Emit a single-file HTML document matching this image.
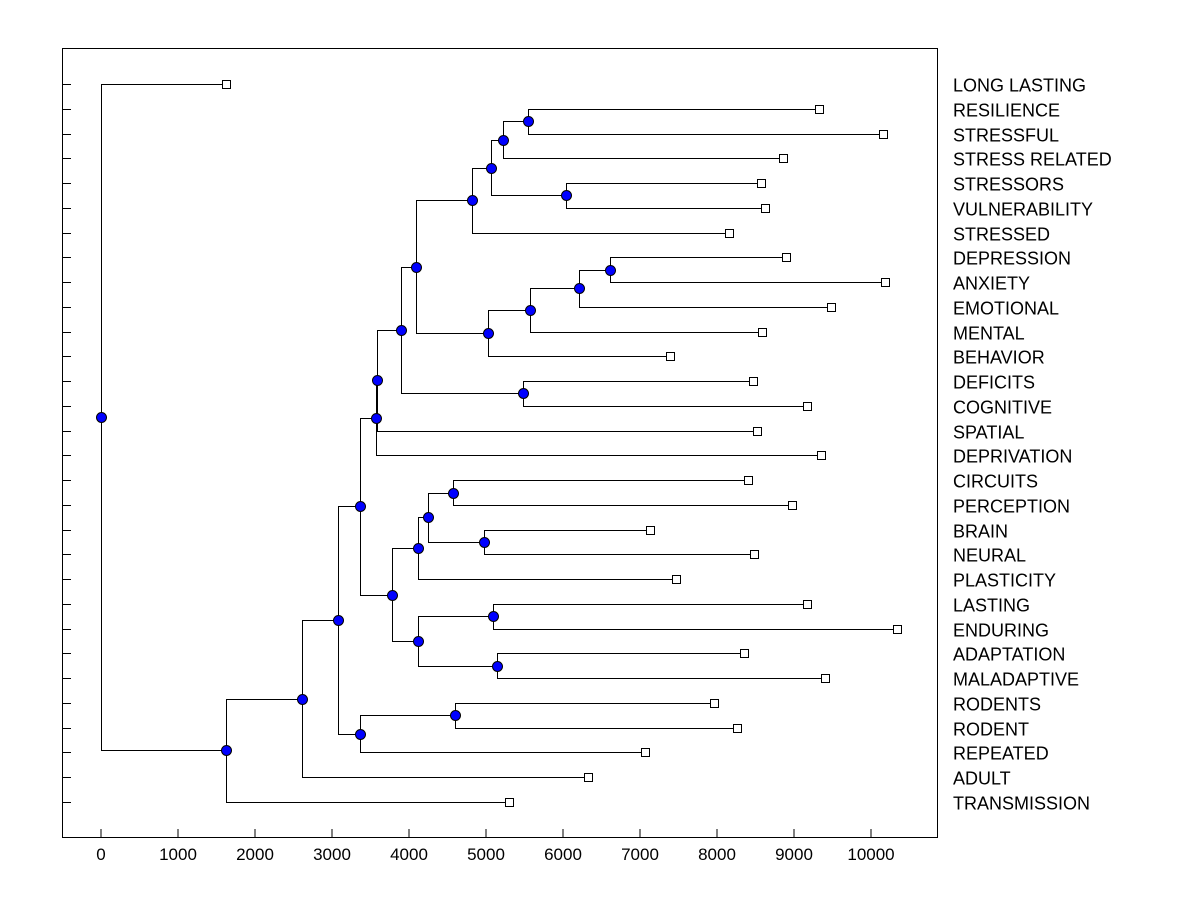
<!DOCTYPE html>
<html><head><meta charset="utf-8"><style>
html,body{margin:0;padding:0;background:#fff;}
svg text{font-family:"Liberation Sans",Arial,sans-serif;font-size:16px;fill:#000;}
svg text.lbl{font-size:18px;}
svg text.tk{font-size:17px;}
</style></head><body>
<svg id="chart" width="1200" height="900" xmlns="http://www.w3.org/2000/svg">
<rect x="62.5" y="48.5" width="875" height="789" fill="none" stroke="#000" stroke-width="1"/>
<g id="ticks"></g><g id="links"></g><g id="marks"></g><g id="labels"></g>
</svg>
<script>
const leafLabels=["LONG LASTING","RESILIENCE","STRESSFUL","STRESS RELATED","STRESSORS","VULNERABILITY","STRESSED","DEPRESSION","ANXIETY","EMOTIONAL","MENTAL","BEHAVIOR","DEFICITS","COGNITIVE","SPATIAL","DEPRIVATION","CIRCUITS","PERCEPTION","BRAIN","NEURAL","PLASTICITY","LASTING","ENDURING","ADAPTATION","MALADAPTIVE","RODENTS","RODENT","REPEATED","ADULT","TRANSMISSION"];
const leafValues=[1620,9325,10156,8857,8571,8623,8156,8896,10182,9481,8584,7390,8468,9169,8519,9351,8403,8974,7130,8481,7468,9169,10338,8351,9403,7961,8260,7065,6325,5299];
const nodeIds=["CC","AA","BB","Z","U","Y","X","W","V","S","T","R","P","G","N","O","M","I","K","L","J","H","D","F","E","C","B","A","ROOT"];
const nodeLeft=["RESILIENCE","CC","STRESSORS","AA","Z","DEPRESSION","Y","X","W","U","DEFICITS","S","R","P","CIRCUITS","BRAIN","N","M","LASTING","ADAPTATION","K","I","G","RODENTS","F","D","C","B","LONG LASTING"];
const nodeRight=["STRESSFUL","STRESS RELATED","VULNERABILITY","BB","STRESSED","ANXIETY","EMOTIONAL","MENTAL","BEHAVIOR","V","COGNITIVE","T","SPATIAL","DEPRIVATION","PERCEPTION","NEURAL","O","PLASTICITY","ENDURING","MALADAPTIVE","L","J","H","RODENT","REPEATED","E","ADULT","TRANSMISSION","A"];
const nodeValues=[5545,5221,6039,5065,4818,6610,6208,5571,5026,4091,5481,3896,3584,3571,4571,4974,4247,4117,5091,5143,4117,3779,3364,4597,3364,3078,2610,1623,0];
const xTicks=[0,1000,2000,3000,4000,5000,6000,7000,8000,9000,10000];

const NS="http://www.w3.org/2000/svg";
const xs=v=>101+v*0.077;
const rowY=i=>84+i*(802-84)/29;
function mk(tag,attrs,parent){const e=document.createElementNS(NS,tag);for(const k in attrs)e.setAttribute(k,attrs[k]);document.getElementById(parent).appendChild(e);return e;}
xTicks.forEach(t=>{
 const l=mk("line",{x1:xs(t),x2:xs(t),y1:829,y2:838,stroke:"#000"},"ticks");
 
 
 const tx=mk("text",{x:xs(t),y:860,"text-anchor":"middle","class":"tk"},"ticks");tx.textContent=t;
 
 
});
leafLabels.forEach((s,i)=>{
 const y=Math.round(rowY(i))+0.5;
 const l=mk("line",{x1:62,x2:71,y1:y,y2:y,stroke:"#000"},"ticks");
 
 
 const tx=mk("text",{x:953,y:y+7,"class":"lbl"},"labels");tx.textContent=s;
 
 
});
const pos={};
leafLabels.forEach((s,i)=>{pos[s]={x:xs(leafValues[i]),y:rowY(i)};});
nodeIds.forEach((id,k)=>{
 const a=pos[nodeLeft[k]],b=pos[nodeRight[k]];
 pos[id]={x:xs(nodeValues[k]),y:(a.y+b.y)/2};
});
nodeIds.forEach((id,k)=>{
 const p=pos[id],a=pos[nodeLeft[k]],b=pos[nodeRight[k]];
 const px=Math.round(p.x)+0.5;
 const path=mk("path",{d:`M${a.x},${Math.round(a.y)+0.5}H${px}V${Math.round(b.y)+0.5}H${b.x}`,fill:"none",stroke:"#000"},"links");
 
 
});
leafLabels.forEach(s=>{
 const p=pos[s];
 const r=mk("rect",{x:Math.round(p.x)-4+0.5,y:Math.round(p.y)-4+0.5,width:8,height:8,fill:"#fff",stroke:"#000"},"marks");
 
 
});
nodeIds.forEach(id=>{
 const p=pos[id];
 const c=mk("circle",{cx:Math.round(p.x)+0.5,cy:Math.round(p.y)+0.5,r:5,fill:"#0000ff",stroke:"#000","stroke-width":1},"marks");
 
 
});
</script>
</body></html>
